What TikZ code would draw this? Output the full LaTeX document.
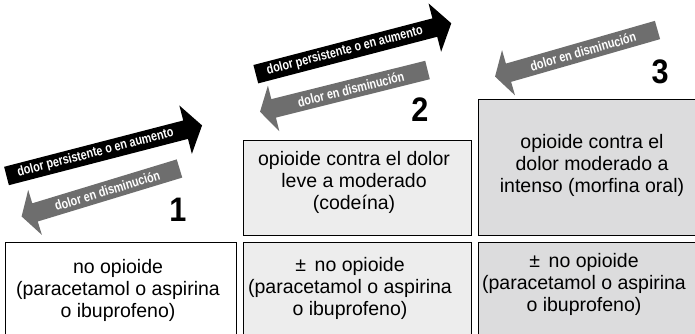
\documentclass[tikz,border=0pt]{standalone}
\usepackage{fontspec}
\setmainfont{Liberation Sans}
\newfontfamily\arrowfont[FakeStretch=0.8]{Liberation Sans}
\newfontfamily\numfont[FakeStretch=0.9]{Liberation Sans}
\definecolor{arrowgray}{HTML}{6E6E6E}
\definecolor{fillA}{HTML}{EDEDED}
\definecolor{fillB}{HTML}{DCDCDD}
\tikzset{
  box/.style={draw=black, line width=1.2pt, anchor=north west, inner sep=0pt},
  boxtext/.style={anchor=north, align=center, inner sep=0pt, font=\fontsize{19.5}{22}\selectfont},
  arrowtext/.style={text=white, inner sep=0pt, transform shape, font=\arrowfont\bfseries\fontsize{13.5}{15}\selectfont},
  numlabel/.style={anchor=base, inner sep=0pt, font=\numfont\bfseries\fontsize{34}{36}\selectfont},
}
\begin{document}
\begin{tikzpicture}[x=1pt,y=-1pt]
\useasboundingbox (0,0) rectangle (695,334);
\clip (0,0) rectangle (695,334);

% boxes
\node[box, fill=white, minimum width=231, minimum height=110] (boxA) at (5,242) {};
\node[box, fill=fillA, minimum width=228, minimum height=110] (boxB) at (243,242) {};
\node[box, fill=fillB, minimum width=230, minimum height=110] (boxC) at (477.5,242) {};
\node[box, fill=fillA, minimum width=228, minimum height=95] (boxBm) at (243,140) {};
\node[box, fill=fillB, minimum width=230, minimum height=136] (boxCm) at (477.5,99) {};

% box texts (north = first baseline - 15.4)
\node[boxtext] (tA) at (118,257.6) {\strut no opioide\\(paracetamol o aspirina\\o ibuprofeno)};
\node[boxtext] (tB) at (350,255.6) {\strut ±\, no opioide\\(paracetamol o aspirina\\o ibuprofeno)};
\node[boxtext] (tC) at (584,251.6) {\strut ±\, no opioide\\(paracetamol o aspirina\\o ibuprofeno)};
\node[boxtext] (tBm) at (354,149.6) {\strut opioide contra el dolor\\leve a moderado\\(codeína)};
\node[boxtext] (tCm) at (592,132.6) {\strut opioide contra el\\dolor moderado a\\intenso (morfina oral)};

% step numbers
\node[numlabel] (n1) at (178,221) {1};
\node[numlabel] (n2) at (420,121.5) {2};
\node[numlabel] (n3) at (660,83.5) {3};

% arrows step 1
\begin{scope}[shift={(6.5,176)}, rotate=14.5]
  \fill[black] (0,-9.5) -- (185,-9.5) -- (185,-25) -- (202,0) -- (185,25) -- (185,9.5) -- (0,9.5) -- cycle;
  \node[arrowtext] (up1) at (92,0) {dolor persistente o en aumento};
\end{scope}
\begin{scope}[shift={(179.5,168.5)}, rotate=16.9]
  \fill[arrowgray] (0,-9.5) -- (-151,-9.5) -- (-151,-23.5) -- (-165,0) -- (-151,23.5) -- (-151,9.5) -- (0,9.5) -- cycle;
  \node[arrowtext] (down1) at (-75.5,0) {dolor en disminución};
\end{scope}

% arrows step 2
\begin{scope}[shift={(255.8,74.2)}, rotate=14.6]
  \fill[black] (0,-9.5) -- (185,-9.5) -- (185,-25) -- (202,0) -- (185,25) -- (185,9.5) -- (0,9.5) -- cycle;
  \node[arrowtext] (up2) at (92,0) {dolor persistente o en aumento};
\end{scope}
\begin{scope}[shift={(427.5,70)}, rotate=14]
  \fill[arrowgray] (0,-9.5) -- (-158.6,-9.5) -- (-158.6,-23.5) -- (-172.6,0) -- (-158.6,23.5) -- (-158.6,9.5) -- (0,9.5) -- cycle;
  \node[arrowtext] (down2) at (-79,0) {dolor en disminución};
\end{scope}

% arrow step 3
\begin{scope}[shift={(657.5,30)}, rotate=16]
  \fill[arrowgray] (0,-9.5) -- (-155,-9.5) -- (-155,-23.5) -- (-169,0) -- (-155,23.5) -- (-155,9.5) -- (0,9.5) -- cycle;
  \node[arrowtext] (down3) at (-77.5,0) {dolor en disminución};
\end{scope}
\end{tikzpicture}
\end{document}
